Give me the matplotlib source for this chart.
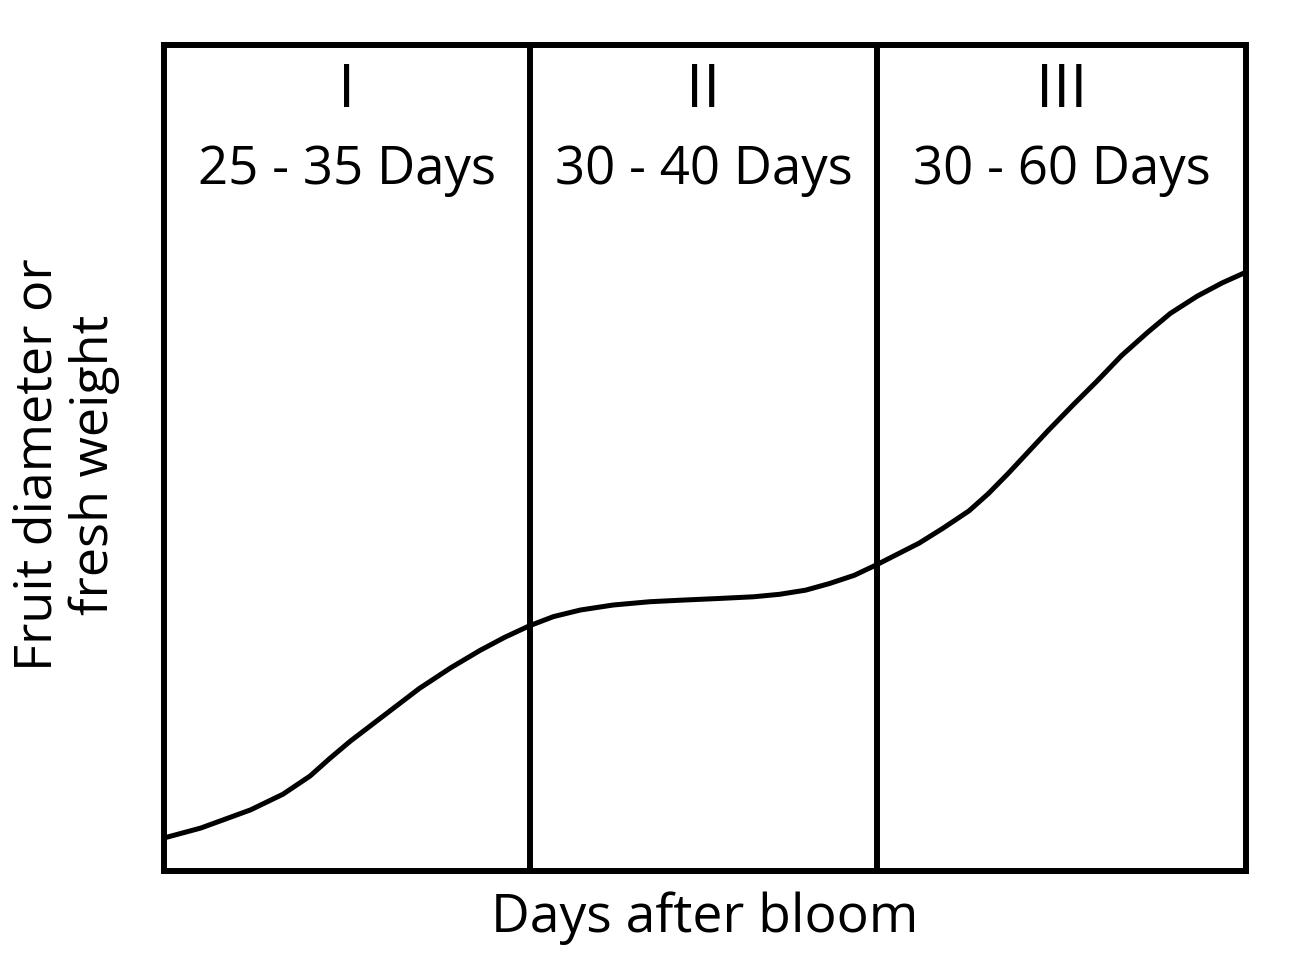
import matplotlib
matplotlib.use("Agg")
import matplotlib.pyplot as plt

# Growth curve (arbitrary units, 0-100 on both axes)
x_vals = [0, 3.4, 8.0, 11.0, 13.5, 15.3, 17.2, 20.5, 23.6, 26.5, 29.2, 31.5, 33.8, 36.0, 38.5, 41.5, 44.9, 48.0,
          51.4, 54.5, 56.9, 59.3, 61.5, 63.8, 65.9, 69.8, 72.0, 74.4, 76.2, 78.0, 81.7, 84.0, 86.3, 88.5, 90.9, 93.0, 95.5, 97.8, 100]
y_vals = [4.0, 5.2, 7.4, 9.3, 11.5, 13.6, 15.7, 19.0, 22.1, 24.6, 26.7, 28.3, 29.7, 30.8, 31.6, 32.2, 32.6, 32.8,
          33.0, 33.2, 33.5, 34.0, 34.8, 35.8, 37.1, 39.7, 41.5, 43.6, 45.7, 48.1, 53.3, 56.4, 59.4, 62.4, 65.2, 67.5, 69.6, 71.2, 72.5]

stage_bounds = [33.8, 65.9]
stage_names = ["I", "II", "III"]
stage_days = ["25 - 35 Days", "30 - 40 Days", "30 - 60 Days"]

plt.rcParams['font.family'] = ['Open Sans', 'DejaVu Sans']

fig = plt.figure(figsize=(13.08, 9.78), dpi=100)
ax = fig.add_axes([164/1308, 1 - 872/978, (1246-164)/1308, (872-46)/978])
ax.set_xlim(0, 100)
ax.set_ylim(0, 100)

ax.plot(x_vals, y_vals, color='black', lw=3.6, solid_joinstyle='round', clip_on=True)
for b in stage_bounds:
    ax.axvline(b, color='black', lw=4.3)

edges = [0] + stage_bounds + [100]
for i in range(3):
    cx = (edges[i] + edges[i+1]) / 2
    ax.text(cx, 94.5, stage_names[i], ha='center', va='center', fontsize=44)
    ax.text(cx, 85.0, stage_days[i], ha='center', va='center', fontsize=38)

for s in ax.spines.values():
    s.set_linewidth(4.3)
ax.set_xticks([])
ax.set_yticks([])

fig.text((163+1247)/2/1308, 1 - 918/978, "Days after bloom", ha='center', va='center', fontsize=38.5)
fig.text(66/1308, 1 - 465/978, "Fruit diameter or\nfresh weight", ha='center', va='center',
         fontsize=37.5, rotation=90, linespacing=1.12)

fig.savefig("out.png", dpi=100)
